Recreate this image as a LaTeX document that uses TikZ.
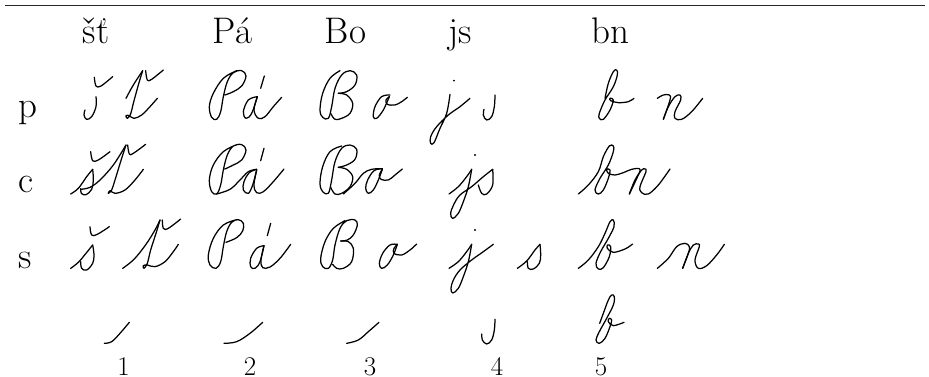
\documentclass[tikz,border=0pt]{standalone}
\tikzset{
  pen/.style={line width=1.25pt,line cap=round,line join=round},
  head/.style={inner sep=0pt,anchor=base,font=\fontsize{37}{40}\selectfont},
  num/.style={inner sep=0pt,anchor=base,font=\fontsize{27}{30}\selectfont}
}
\newcommand\gl[3]{\begin{scope}[shift={(#1,#2)},scale=0.33333]\draw[pen] plot[smooth,tension=0.6] coordinates {#3};\end{scope}}
\newcommand\dotat[3]{\begin{scope}[shift={(#1,#2)},scale=0.33333]\fill #3 circle (3.2);\end{scope}}
\begin{document}
\begin{tikzpicture}[x=1pt,y=-1pt]
\useasboundingbox (0,0) rectangle (929,377);
\coordinate (ruleL) at (5,5.6);
\coordinate (ruleR) at (925,5.6);
\draw[line width=1.3pt,black!85] (ruleL) -- (ruleR);
% header
\node[head] (h1) at (96,44) {šť};
\node[head] (h2) at (232.5,44) {Pá};
\node[head] (h3) at (345.5,44) {Bo};
\node[head] (h4) at (460,44) {js};
\node[head] (h5) at (610,44) {bn};
\node[head] (lp) at (27.5,117.5) {p};
\node[head] (lc) at (26,193) {c};
\node[head] (ls) at (25,268) {s};
\node[num] (n1) at (123.5,375.6) {1};
\node[num] (n2) at (250,375.6) {2};
\node[num] (n3) at (370,375.6) {3};
\node[num] (n4) at (497,375.6) {4};
\node[num] (n5) at (601,375.6) {5};
% ---- row p
\gl{0}{0}{(288,290)(288,320)(275,350)(260,358)(252,345)(255,330)}
\gl{0}{0}{(283,232)(288,258)(303,258)(338,230)}
\gl{0}{0}{(378,295)(400,255)(428,212)}
\gl{0}{0}{(428,212)(415,255)(400,310)(392,342)(382,355)(378,347)(388,347)(402,355)(425,345)(450,320)(472,295)}
\gl{0}{0}{(437,212)(442,240)(455,238)(490,210)}
\gl{0}{0}{(710,212)(670,235)(640,280)(628,320)(635,352)(650,358)(662,335)(670,290)(682,245)(700,218)(725,212)(738,228)(725,258)(700,275)(675,285)}
\gl{0}{0}{(793,228)(782,265)}
\gl{0}{0}{(772,290)(745,300)(730,335)(738,355)(755,340)(772,290)}
\gl{0}{0}{(772,290)(762,330)(775,355)(795,350)(820,320)(845,292)}
\gl{300}{0}{(120,212)(90,235)(68,280)(60,330)(68,352)(85,355)(95,320)(105,265)(125,225)(150,212)(170,225)(165,255)(140,275)(115,280)}
\gl{300}{0}{(115,280)(140,285)(158,310)(150,340)(125,355)(105,358)(92,340)}
\gl{300}{0}{(270,285)(245,290)(225,320)(220,350)(230,355)(250,330)(268,290)}
\gl{300}{0}{(268,290)(258,300)(262,313)(285,315)(305,305)(322,292)}
\dotat{300}{0}{(462,242)}
\gl{300}{0}{(450,283)(440,340)(420,385)(402,428)(392,430)(392,410)(410,380)(445,345)(480,320)(510,295)}
\gl{300}{0}{(585,285)(583,320)(575,350)(560,360)(550,345)(552,328)}
\gl{560}{70}{(135,85)(145,40)(160,5)(170,0)(172,15)(160,50)(135,90)(118,130)(118,145)(130,148)(150,120)(160,90)(150,85)(152,92)(175,98)(205,95)(222,85)}
\gl{560}{70}{(292,85)(310,75)(328,75)(330,90)(310,148)}
\gl{560}{70}{(310,148)(325,110)(345,80)(360,75)(362,90)(345,125)(345,145)(365,148)(395,125)(428,85)}
% ---- row c
\gl{0}{130}{(212,192)(235,175)(260,140)(278,118)}
\gl{0}{130}{(278,118)(280,150)(275,178)(258,194)(244,190)(242,176)}
\gl{0}{130}{(242,178)(270,172)(300,150)(340,105)(378,45)}
\gl{0}{130}{(378,45)(365,85)(345,150)(335,180)(325,190)(330,182)(345,190)(375,180)(405,150)(430,118)}
\gl{0}{130}{(272,65)(278,92)(295,90)(330,65)}
\gl{0}{130}{(383,45)(388,72)(400,70)(437,43)}
\gl{0}{130}{(710,44)(670,65)(640,105)(628,150)(635,185)(650,192)(662,165)(670,120)(682,75)(700,48)(725,44)(738,60)(725,90)(700,105)(675,117)}
\gl{0}{130}{(650,192)(690,178)(720,150)(745,125)(770,118)}
\gl{0}{130}{(770,118)(748,128)(732,155)(730,180)(745,190)(758,165)(770,120)}
\gl{0}{130}{(770,120)(762,165)(770,188)(790,185)(820,155)(852,117)}
\gl{0}{130}{(792,55)(782,92)}
\gl{300}{130}{(125,48)(90,65)(68,110)(60,160)(68,185)(85,190)(95,150)(105,95)(125,55)(150,45)(170,58)(165,88)(140,105)(115,112)}
\gl{300}{130}{(115,112)(140,118)(158,140)(150,170)(125,190)(105,192)(92,172)}
\gl{300}{130}{(130,192)(165,160)(190,130)(215,118)(247,116)}
\gl{300}{130}{(247,116)(222,122)(203,150)(197,175)(205,190)(220,180)(235,150)(247,118)}
\gl{300}{130}{(247,118)(238,135)(243,148)(265,150)(285,135)(307,117)}
\dotat{300}{130}{(525,75)}
\gl{300}{130}{(447,192)(475,170)(500,140)(515,118)}
\gl{300}{130}{(515,118)(505,170)(490,215)(475,250)(458,265)(452,250)(462,222)(480,195)(515,170)(550,140)(578,118)}
\gl{300}{130}{(578,118)(578,165)(560,192)(545,190)(535,165)}
\gl{560}{70}{(55,372)(85,345)(115,305)(130,260)(148,228)(160,228)(160,245)(145,285)(120,325)(105,360)(115,372)(130,360)(145,325)(150,300)(140,298)(145,310)(165,315)(190,308)(215,298)(240,298)(228,330)(208,372)}
\gl{560}{70}{(208,372)(225,330)(245,300)(255,297)(258,305)(240,350)(245,368)(265,372)(295,345)(330,297)}
% ---- row s
\gl{60}{205}{(32,190)(55,172)(78,145)(98,120)}
\gl{60}{205}{(98,120)(102,150)(98,175)(80,195)(65,190)(62,170)}
\gl{60}{205}{(90,65)(95,90)(112,88)(148,65)}
\gl{60}{205}{(188,190)(222,163)(258,118)(285,75)(300,45)}
\gl{60}{205}{(300,45)(288,85)(272,135)(262,175)(252,190)(250,182)(262,180)(285,185)(315,170)(340,140)(355,118)}
\gl{60}{205}{(307,45)(310,70)(325,70)(362,42)}
\gl{60}{205}{(530,44)(490,60)(460,100)(445,150)(450,180)(468,190)(482,170)(490,125)(500,80)(515,52)(535,44)(550,55)(548,78)(530,98)(498,112)}
\gl{60}{205}{(632,55)(622,92)}
\gl{60}{205}{(612,122)(590,130)(572,160)(572,185)(585,190)(600,170)(612,122)}
\gl{60}{205}{(612,122)(603,165)(608,188)(630,186)(660,160)(692,118)}
\gl{310}{205}{(105,47)(70,70)(45,110)(32,160)(38,185)(55,190)(68,165)(75,120)(90,70)(110,47)(135,45)(142,60)(130,90)(112,105)(92,108)}
\gl{310}{205}{(92,108)(115,110)(130,130)(125,170)(100,190)(80,190)(68,178)}
\gl{310}{205}{(262,118)(240,120)(218,145)(208,175)(215,190)(232,180)(250,150)(262,118)}
\gl{310}{205}{(262,118)(252,130)(252,145)(275,150)(300,135)(320,117)}
\dotat{310}{205}{(495,75)}
\gl{310}{205}{(417,190)(445,170)(470,140)(485,118)}
\gl{310}{205}{(485,118)(475,170)(460,215)(445,250)(428,264)(423,250)(430,225)(450,195)(485,165)(520,140)(550,118)}
\gl{310}{205}{(622,190)(650,168)(675,135)(690,118)}
\gl{310}{205}{(690,118)(692,150)(688,175)(670,192)(655,190)(652,170)}
\gl{560}{205}{(55,190)(85,165)(115,125)(135,85)(150,50)(160,45)(162,65)(145,100)(122,140)(108,175)(115,192)(130,188)(148,155)(152,125)(143,120)(142,130)(160,142)(195,132)(218,117)}
\gl{560}{205}{(292,190)(325,160)(350,125)(375,115)(388,125)(385,145)(368,190)}
\gl{560}{205}{(368,190)(385,145)(400,120)(415,117)(418,125)(405,165)(415,190)(440,182)(470,150)(493,118)}
% ---- strokes row
\gl{0}{250}{(313,280)(335,275)(360,250)(388,217)}
\gl{0}{250}{(672,280)(710,275)(750,250)(788,217)}
\gl{300}{250}{(140,280)(175,270)(205,245)(237,217)}
\gl{300}{250}{(585,208)(583,240)(575,270)(560,282)(547,270)(545,252)}
\gl{560}{205}{(119,355)(130,325)(145,285)(155,270)(163,275)(160,300)(140,340)(118,380)(108,405)(118,415)(135,400)(150,365)(155,345)(148,340)(145,350)(160,362)(192,352)}
\end{tikzpicture}
\end{document}
